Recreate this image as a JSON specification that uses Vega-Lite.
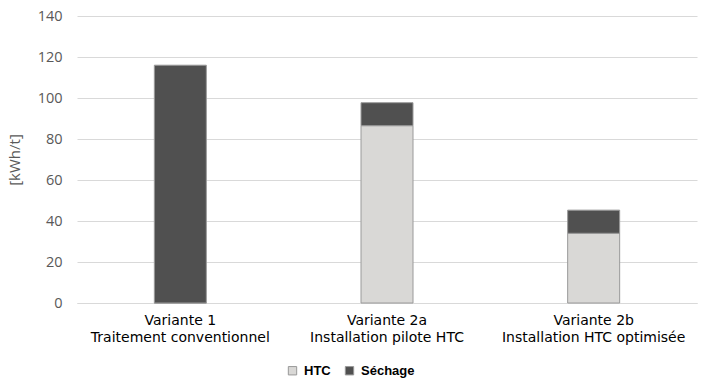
{
  "$schema": "https://vega.github.io/schema/vega-lite/v6.json",
  "width": 620,
  "height": 287,
  "autosize": "none",
  "padding": {"left": 77, "top": 16, "right": 5, "bottom": 75},
  "background": "white",
  "data": {
    "values": [
      {"variante": "Variante 1|Traitement conventionnel", "part": "HTC", "ord": 1, "value": 0},
      {"variante": "Variante 1|Traitement conventionnel", "part": "Séchage", "ord": 2, "value": 116},
      {"variante": "Variante 2a|Installation pilote HTC", "part": "HTC", "ord": 1, "value": 86.5},
      {"variante": "Variante 2a|Installation pilote HTC", "part": "Séchage", "ord": 2, "value": 11.2},
      {"variante": "Variante 2b|Installation HTC optimisée", "part": "HTC", "ord": 1, "value": 34},
      {"variante": "Variante 2b|Installation HTC optimisée", "part": "Séchage", "ord": 2, "value": 11.3}
    ]
  },
  "config": {
    "view": {"stroke": null},
    "axisX": {"labelFont": "DejaVu Sans", "labelFontSize": 14, "labelColor": "#000000"},
    "axisY": {"labelFont": "Open Sans", "labelFontSize": 14.5, "titleFont": "Open Sans", "titleFontSize": 15, "labelColor": "#595959", "titleColor": "#595959"},
    "legend": {"labelFont": "Liberation Sans", "labelFontSize": 13, "labelFontWeight": "bold", "labelColor": "#000000"}
  },
  "mark": {"type": "bar", "width": 52, "stroke": "#9a9a9a", "strokeWidth": 1},
  "encoding": {
    "x": {
      "field": "variante",
      "type": "nominal",
      "sort": null,
      "scale": {"paddingInner": 0.75, "paddingOuter": 0.375},
      "axis": {
        "title": null,
        "labelAngle": 0,
        "labelExpr": "split(datum.label, '|')",
        "labelLineHeight": 17,
        "labelPadding": 10,
        "labelLimit": 0,
        "labelOverlap": false,
        "ticks": false,
        "domain": true,
        "domainColor": "#d9d9d9",
        "grid": false
      }
    },
    "y": {
      "field": "value",
      "type": "quantitative",
      "stack": "zero",
      "scale": {"domain": [0, 140], "nice": false},
      "axis": {
        "title": "[kWh/t]",
        "titleFontWeight": "normal",
        "titlePadding": 15,
        "values": [0, 20, 40, 60, 80, 100, 120, 140],
        "labelPadding": 15,
        "ticks": false,
        "domain": false,
        "gridColor": "#d9d9d9",
        "gridWidth": 1
      }
    },
    "color": {
      "field": "part",
      "type": "nominal",
      "scale": {"domain": ["HTC", "Séchage"], "range": ["#d9d8d6", "#505050"]},
      "legend": {
        "title": null,
        "orient": "none",
        "legendX": 209,
        "legendY": 348,
        "padding": 0,
        "direction": "horizontal",
        "symbolType": "square",
        "symbolSize": 70,
        "symbolStrokeColor": "#999999",
        "symbolStrokeWidth": 1,
        "labelOffset": 5,
        "columnPadding": 12
      }
    },
    "order": {"field": "ord", "type": "quantitative"}
  }
}
